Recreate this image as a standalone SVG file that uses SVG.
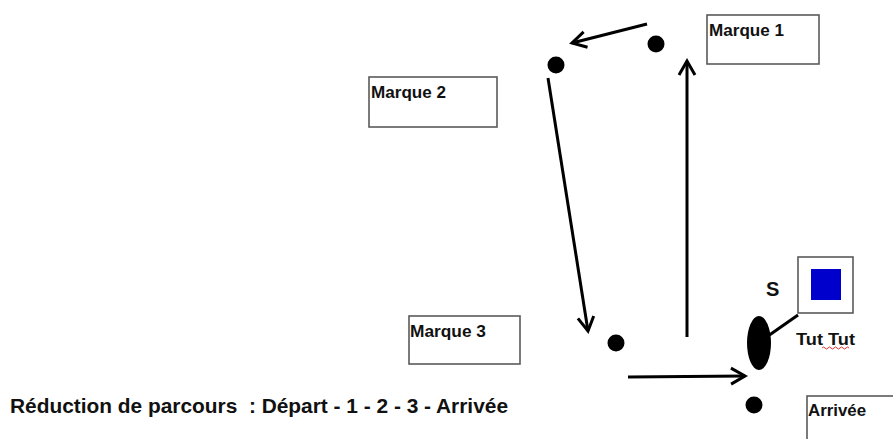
<svg xmlns="http://www.w3.org/2000/svg" width="893" height="439" viewBox="0 0 893 439">
<style>
.box{fill:#fff;stroke:#5a5a5a;stroke-width:1.6}
.lbl{font-family:"Liberation Sans",Arial,sans-serif;font-weight:bold;font-size:16px;fill:#111}
.dot{fill:#000}
.con{stroke:#000;stroke-width:3;fill:none}
</style>
<defs>
<marker id="ah" markerUnits="userSpaceOnUse" markerWidth="20" markerHeight="20" viewBox="-16 -10 20 20" refX="0" refY="0" orient="auto">
<path d="M-14,-8 L0,0 L-14,8" fill="none" stroke="#000" stroke-width="3" stroke-linejoin="miter"/>
</marker>
</defs>
<rect width="893" height="439" fill="#fff"/>
<g id="marque1"><rect class="box" x="707" y="15" width="112" height="49"/><text class="lbl" x="709" y="36" textLength="75" lengthAdjust="spacingAndGlyphs">Marque 1</text></g>
<g id="marque2"><rect class="box" x="369" y="77" width="128" height="50"/><text class="lbl" x="371" y="98" textLength="75" lengthAdjust="spacingAndGlyphs">Marque 2</text></g>
<g id="marque3"><rect class="box" x="409" y="316" width="111" height="48"/><text class="lbl" x="410" y="337" textLength="76" lengthAdjust="spacingAndGlyphs">Marque 3</text></g>
<g id="arrivee"><rect class="box" x="807" y="396" width="100" height="60"/><text class="lbl" x="808" y="416" textLength="58" lengthAdjust="spacingAndGlyphs">Arrivée</text></g>
<g id="point1"><circle class="dot" cx="656" cy="44" r="8.5"/></g>
<g id="point2"><circle class="dot" cx="556" cy="65" r="8.5"/></g>
<g id="point3"><circle class="dot" cx="616" cy="343" r="8.5"/></g>
<g id="point4"><circle class="dot" cx="754" cy="405" r="8.5"/></g>
<g id="voiture">
<ellipse cx="759" cy="343" rx="12" ry="27" fill="#000"/>
<line x1="768" y1="336" x2="798" y2="315" stroke="#000" stroke-width="3"/>
<text x="796" y="345" font-family="'Liberation Sans',Arial,sans-serif" font-weight="bold" font-size="16" fill="#111" textLength="59" lengthAdjust="spacingAndGlyphs">Tut Tut</text>
<path d="M822,348 q1.5,-2 3,0 t3,0 t3,0 t3,0 t3,0 t3,0 t3,0 t3,0 t3,0" fill="none" stroke="#e03030" stroke-width="1"/>
</g>
<g id="signal">
<rect class="box" x="798" y="257" width="55" height="56"/>
<rect x="811" y="269" width="30" height="31" fill="#0000cc"/>
<text x="766" y="296" font-family="'Liberation Sans',Arial,sans-serif" font-weight="bold" font-size="20" fill="#111">S</text>
</g>
<g id="connectors">
<line class="con" x1="647" y1="24" x2="572" y2="43" marker-end="url(#ah)"/>
<line class="con" x1="548" y1="78" x2="588" y2="331" marker-end="url(#ah)"/>
<line class="con" x1="628" y1="377" x2="745" y2="376" marker-end="url(#ah)"/>
<line class="con" x1="687" y1="337" x2="687" y2="61" marker-end="url(#ah)"/>
</g>
<g id="titre"><text x="10" y="413" font-family="'Liberation Sans',Arial,sans-serif" font-weight="bold" font-size="21" fill="#111" textLength="498" lengthAdjust="spacingAndGlyphs" xml:space="preserve">Réduction de parcours  : Départ - 1 - 2 - 3 - Arrivée</text></g>
</svg>
